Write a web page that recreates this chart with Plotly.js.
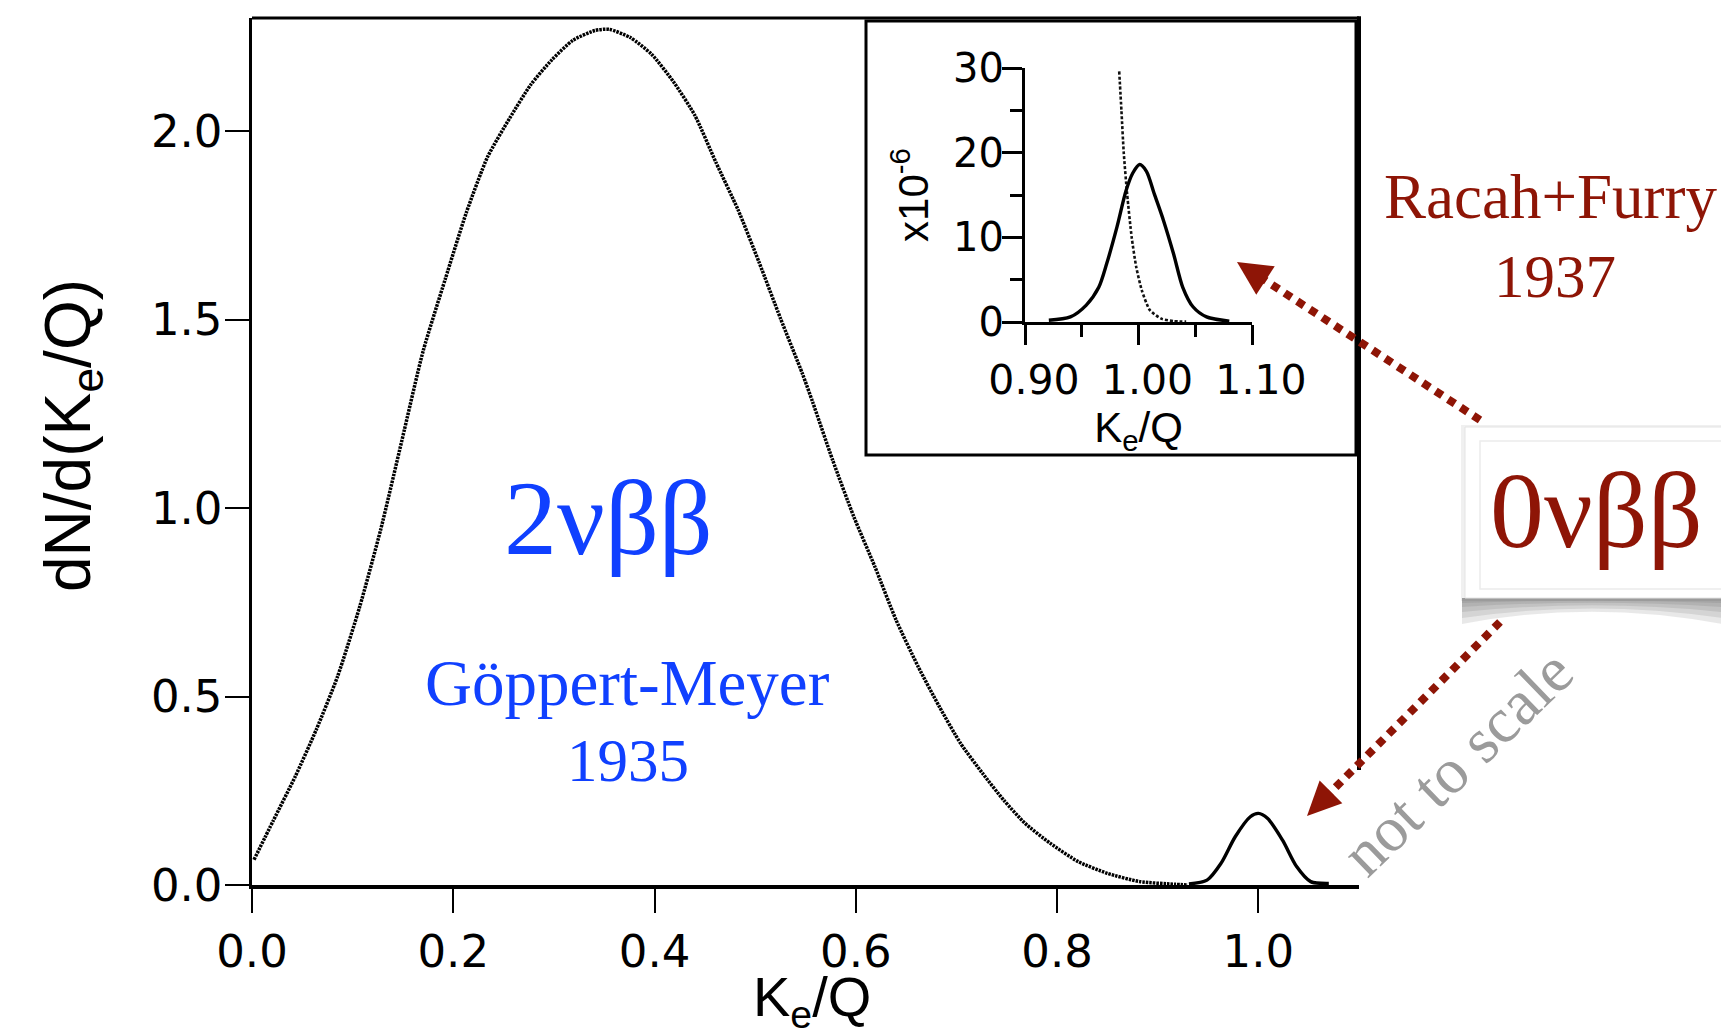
<!DOCTYPE html>
<html>
<head>
<meta charset="utf-8">
<script src="https://cdn.plot.ly/plotly-3.0.1.min.js"></script>
<style>
  html, body { margin: 0; padding: 0; background: #ffffff; }
  #chart { width: 1721px; height: 1029px; }
</style>
</head>
<body>
<div id="chart"></div>
<script>
// Two-neutrino double-beta spectrum: summed electron energy (Ke/Q) vs dN/d(Ke/Q)
const ke2nu = [0.002, 0.021, 0.043, 0.064, 0.085, 0.107, 0.128, 0.149, 0.170, 0.192,
               0.213, 0.234, 0.256, 0.277, 0.298, 0.319, 0.341, 0.355, 0.376, 0.397,
               0.419, 0.440, 0.461, 0.483, 0.504, 0.525, 0.547, 0.557, 0.577, 0.598,
               0.619, 0.640, 0.662, 0.683, 0.704, 0.726, 0.747, 0.768, 0.793, 0.821,
               0.850, 0.882, 0.917, 0.930];
const dn2nu = [0.067, 0.170, 0.288, 0.413, 0.553, 0.738, 0.944, 1.180, 1.416, 1.607,
               1.784, 1.931, 2.034, 2.123, 2.189, 2.241, 2.267, 2.270, 2.248, 2.204,
               2.130, 2.042, 1.917, 1.791, 1.651, 1.504, 1.356, 1.282, 1.127, 0.977,
               0.844, 0.703, 0.579, 0.473, 0.376, 0.296, 0.225, 0.164, 0.111, 0.062,
               0.031, 0.009, 0.002, 0.000];

// Neutrinoless peak at the endpoint (drawn not to scale)
const ke0nu = [0.931, 0.949, 0.963, 0.977, 0.992, 1.000, 1.009, 1.024, 1.038, 1.052, 1.070];
const dn0nu = [0.003, 0.013, 0.058, 0.128, 0.181, 0.190, 0.177, 0.119, 0.049, 0.009, 0.004];

// Inset: endpoint region, in units of 1e-6
const keInset2nu = [0.983, 0.985, 0.987, 0.990, 0.994, 0.998, 1.003, 1.010, 1.020, 1.031, 1.042];
const dnInset2nu = [29.6, 24.9, 20.0, 15.1, 10.0, 6.5, 3.7, 1.4, 0.4, 0.1, 0.05];
const keInset0nu = [0.921, 0.940, 0.954, 0.965, 0.972, 0.981, 0.989, 0.995, 1.001, 1.007,
                    1.014, 1.022, 1.031, 1.039, 1.048, 1.060, 1.080];
const dnInset0nu = [0.2, 0.6, 2.0, 4.1, 6.9, 11.2, 15.5, 17.6, 18.6, 17.8,
                    15.1, 12.0, 8.0, 4.1, 1.8, 0.6, 0.1];

// Page geometry
const W = 1721, H = 1029;
const M = { l: 252, r: 362, t: 18, b: 144 };
const PW = W - M.l - M.r, PH = H - M.t - M.b;
const px = x => (x - M.l) / PW;          // pixel x -> paper x
const py = y => (H - M.b - y) / PH;       // pixel y -> paper y

const RED = '#8e1506';
const BLUE = '#1040ff';

const traces = [
  { x: ke2nu, y: dn2nu, xaxis: 'x', yaxis: 'y', mode: 'lines',
    line: { color: '#000000', width: 3.5, dash: '2.5px,1px', shape: 'spline', smoothing: 0.6 },
    hoverinfo: 'skip', showlegend: false },
  { x: ke0nu, y: dn0nu, xaxis: 'x', yaxis: 'y', mode: 'lines',
    line: { color: '#000000', width: 3.4, shape: 'spline', smoothing: 0.8 },
    hoverinfo: 'skip', showlegend: false },
  { x: keInset2nu, y: dnInset2nu, xaxis: 'x2', yaxis: 'y2', mode: 'lines',
    line: { color: '#111111', width: 2.6, dash: '3px,2px', shape: 'spline', smoothing: 0.6 },
    hoverinfo: 'skip', showlegend: false },
  { x: keInset0nu, y: dnInset0nu, xaxis: 'x2', yaxis: 'y2', mode: 'lines',
    line: { color: '#000000', width: 3.4, shape: 'spline', smoothing: 0.8 },
    hoverinfo: 'skip', showlegend: false }
];

// Dotted arrow with a filled triangular head, specified in page pixels
function arrow(x0, y0, tx, ty, headLen, headHalf) {
  const dx = tx - x0, dy = ty - y0, L = Math.hypot(dx, dy);
  const ux = dx / L, uy = dy / L, nx = -uy, ny = ux;
  const bx = tx - ux * headLen, by = ty - uy * headLen;
  const c1x = bx + nx * headHalf, c1y = by + ny * headHalf;
  const c2x = bx - nx * headHalf, c2y = by - ny * headHalf;
  return [
    { type: 'line', xref: 'paper', yref: 'paper', layer: 'above',
      x0: px(x0), y0: py(y0), x1: px(bx + ux * 2), y1: py(by + uy * 2),
      line: { color: RED, width: 8, dash: '8px,7px' } },
    { type: 'path', xref: 'paper', yref: 'paper', layer: 'above',
      path: `M ${px(tx)} ${py(ty)} L ${px(c1x)} ${py(c1y)} L ${px(c2x)} ${py(c2y)} Z`,
      fillcolor: RED, line: { width: 0 } }
  ];
}

// Soft curled shadow under the callout box, built from stacked translucent layers
function curlShadow() {
  const out = [];
  const depths = [26, 20, 14, 9, 5];
  depths.forEach(d => {
    const x0 = px(1462), x1 = px(1722);
    const yTop = py(598), yEdge = py(598 + d), yMid = py(598 + d * 0.05);
    out.push({ type: 'path', xref: 'paper', yref: 'paper', layer: 'below',
      path: `M ${x0} ${yTop} L ${x1} ${yTop} L ${x1} ${yEdge} Q ${px(1592)} ${yMid} ${x0} ${yEdge} Z`,
      fillcolor: 'rgba(80,80,80,0.13)', line: { width: 0 } });
  });
  return out;
}

const shapes = [
  // inset frame
  { type: 'rect', xref: 'paper', yref: 'paper', layer: 'below',
    x0: px(866), x1: px(1356), y0: py(455), y1: py(21),
    fillcolor: '#ffffff', line: { color: '#000000', width: 3 } },
  // main frame: top and right edges
  { type: 'line', xref: 'paper', yref: 'paper', layer: 'above',
    x0: 0, x1: 1, y0: 1, y1: 1, line: { color: '#000000', width: 3 } },
  { type: 'line', xref: 'paper', yref: 'paper', layer: 'above',
    x0: 1, x1: 1, y0: py(770), y1: 1.002, line: { color: '#000000', width: 4 } },
  // callout box for 0vbb
  ...curlShadow(),
  { type: 'rect', xref: 'paper', yref: 'paper', layer: 'below',
    x0: px(1461), x1: px(1740), y0: py(601), y1: py(425),
    fillcolor: 'rgba(0,0,0,0.06)', line: { width: 0 } },
  { type: 'rect', xref: 'paper', yref: 'paper', layer: 'below',
    x0: px(1465), x1: px(1740), y0: py(598), y1: py(427),
    fillcolor: '#ffffff', line: { color: '#e4e4e4', width: 1 } },
  { type: 'rect', xref: 'paper', yref: 'paper', layer: 'below',
    x0: px(1480), x1: px(1740), y0: py(589), y1: py(441),
    fillcolor: 'rgba(0,0,0,0)', line: { color: '#ececec', width: 1.5 } },
  ...arrow(1480, 420, 1237, 262, 34, 17),
  ...arrow(1500, 622, 1307, 816, 34, 16)
];

const serif = 'Liberation Serif, Times New Roman, serif';
const sans = 'Liberation Sans, Arial, sans-serif';
const annotations = [
  // axis titles of the main panel
  { text: 'dN/d(K<sub>e</sub>/Q)', xref: 'paper', yref: 'paper', x: px(72), y: py(436),
    xanchor: 'center', yanchor: 'middle', showarrow: false, textangle: -90,
    font: { family: sans, size: 64, color: '#000000' } },
  { text: 'K<sub>e</sub>/Q', xref: 'paper', yref: 'paper', x: px(812), y: py(1000),
    xanchor: 'center', yanchor: 'middle', showarrow: false,
    font: { family: sans, size: 56, color: '#000000' } },
  { text: '2νββ', xref: 'paper', yref: 'paper', x: px(608), y: py(518),
    xanchor: 'center', yanchor: 'middle', showarrow: false,
    font: { family: serif, size: 106, color: BLUE } },
  { text: 'Göppert-Meyer', xref: 'paper', yref: 'paper', x: px(627), y: py(683),
    xanchor: 'center', yanchor: 'middle', showarrow: false,
    font: { family: serif, size: 65, color: BLUE } },
  { text: '1935', xref: 'paper', yref: 'paper', x: px(628), y: py(760),
    xanchor: 'center', yanchor: 'middle', showarrow: false,
    font: { family: serif, size: 61, color: BLUE } },
  { text: 'Racah+Furry', xref: 'paper', yref: 'paper', x: px(1382), y: py(197),
    xanchor: 'left', yanchor: 'middle', showarrow: false,
    font: { family: serif, size: 63, color: RED } },
  { text: '1937', xref: 'paper', yref: 'paper', x: px(1555), y: py(276),
    xanchor: 'center', yanchor: 'middle', showarrow: false,
    font: { family: serif, size: 61, color: RED } },
  { text: '0νββ', xref: 'paper', yref: 'paper', x: px(1596), y: py(510),
    xanchor: 'center', yanchor: 'middle', showarrow: false,
    font: { family: serif, size: 108, color: RED } },
  { text: 'not to scale', xref: 'paper', yref: 'paper', x: px(1457), y: py(762),
    xanchor: 'center', yanchor: 'middle', showarrow: false, textangle: -44,
    font: { family: serif, size: 64, color: '#9b9b9b' } }
];

const tickFont = { family: 'DejaVu Sans, sans-serif', color: '#000000' };

const layout = {
  width: W, height: H,
  margin: M,
  paper_bgcolor: '#ffffff', plot_bgcolor: '#ffffff',
  showlegend: false,
  xaxis: {
    domain: [0, 1], range: [0, 1.1], tick0: 0, dtick: 0.2, tickformat: '.1f',
    showgrid: false, zeroline: false, showline: true, linecolor: '#000000', linewidth: 4,
    ticks: 'outside', ticklen: 24, tickwidth: 2, tickcolor: '#000000',
    ticklabelstandoff: 0,
    tickfont: Object.assign({ size: 45 }, tickFont),
    fixedrange: true
  },
  yaxis: {
    domain: [0, 1], range: [0, 2.3], tick0: 0, dtick: 0.5, tickformat: '.1f',
    showgrid: false, zeroline: false, showline: true, linecolor: '#000000', linewidth: 3.5,
    ticks: 'outside', ticklen: 24, tickwidth: 2, tickcolor: '#000000',
    ticklabelstandoff: -7,
    tickfont: Object.assign({ size: 45 }, tickFont),
    fixedrange: true
  },
  xaxis2: {
    domain: [px(1025), px(1252)], anchor: 'y2', range: [0.9, 1.1], tick0: 0.9, dtick: 0.1,
    tickformat: '.2f',
    showgrid: false, zeroline: false, showline: true, linecolor: '#000000', linewidth: 3,
    ticks: 'outside', ticklen: 20, tickwidth: 3, tickcolor: '#000000',
    minor: { dtick: 0.05, tick0: 0.9, ticks: 'outside', ticklen: 12, tickwidth: 3, tickcolor: '#000000', showgrid: false },
    ticklabelstandoff: 0, ticklabelshift: 9,
    tickfont: Object.assign({ size: 41 }, tickFont),
    title: { text: 'K<sub>e</sub>/Q', font: { family: sans, size: 42, color: '#000000' }, standoff: 0 },
    fixedrange: true
  },
  yaxis2: {
    domain: [py(322), py(68)], anchor: 'x2', range: [0, 30], tick0: 0, dtick: 10,
    showgrid: false, zeroline: false, showline: true, linecolor: '#000000', linewidth: 3,
    ticks: 'outside', ticklen: 20, tickwidth: 3, tickcolor: '#000000',
    minor: { dtick: 5, tick0: 0, ticks: 'outside', ticklen: 12, tickwidth: 3, tickcolor: '#000000', showgrid: false },
    ticklabelstandoff: -10,
    tickfont: Object.assign({ size: 40 }, tickFont),
    title: { text: 'x10<sup>-6</sup>', font: { family: sans, size: 42, color: '#000000' }, standoff: 12 },
    fixedrange: true
  },
  shapes: shapes,
  annotations: annotations
};

Plotly.newPlot('chart', traces, layout, { staticPlot: true, displayModeBar: false });
</script>
</body>
</html>
